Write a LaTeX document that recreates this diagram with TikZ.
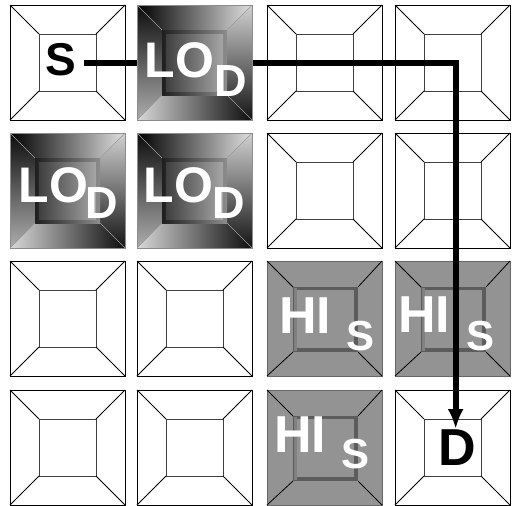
\documentclass[tikz,border=0pt]{standalone}
\usepackage{fontspec}
\setmainfont{Liberation Sans}
\usetikzlibrary{arrows.meta}
\definecolor{higray}{HTML}{939393}
\definecolor{hiframe}{HTML}{5C5C5C}
\newcommand\plainbox[2]{%
  \begin{scope}[shift={(#1,#2)}]
    \draw[sqline, fill=white] (0,0) rectangle (115,115);
    \draw[sqline, draw=black!75] (29,29) rectangle (86,86);
    \draw[sqline] (0,0) -- (29,29) (115,0) -- (86,29) (0,115) -- (29,86) (115,115) -- (86,86);
  \end{scope}}
\newcommand\hibox[2]{%
  \begin{scope}[shift={(#1,#2)}]
    \draw[sqline, draw=black!60, fill=higray] (0,0) rectangle (115,115);
    \fill[hiframe] (26,26) rectangle (91,91);
    \fill[black!50] (27,27) rectangle (30,90);
    \fill[higray] (30,29) rectangle (87,87);
    \draw[sqline] (0,0) -- (26,26) (115,0) -- (91,26) (0,115) -- (26,91) (115,115) -- (91,91);
  \end{scope}}
\newcommand\lobox[2]{%
  \begin{scope}[shift={(#1,#2)}]
    \shade[left color=black, right color=white!88!black] (0,0) -- (115,0) -- (90,25) -- (25,25) -- cycle;
    \shade[top color=white!82!black, bottom color=black!92] (115,0) -- (115,115) -- (90,90) -- (90,25) -- cycle;
    \shade[left color=white!85!black, right color=black!95] (0,115) -- (115,115) -- (90,90) -- (25,90) -- cycle;
    \shade[top color=black!95, bottom color=white!68!black] (0,0) -- (0,115) -- (25,90) -- (25,25) -- cycle;
    \shade[left color=black!88, right color=black!45] (25,25) rectangle (90,90);
    \shade[left color=black!75, right color=black!35] (29,29) rectangle (86,86);
    \draw[line width=0.6pt, draw=black!45] (0,0) rectangle (115,115);
    \draw[line width=0.6pt, draw=black!40] (0,0) -- (25,25) (115,0) -- (90,25) (0,115) -- (25,90) (115,115) -- (90,90);
  \end{scope}}
\begin{document}
\begin{tikzpicture}[x=1pt, y=-1pt,
  sqline/.style={line width=0.8pt, draw=black},
  lab/.style={inner sep=0pt, anchor=base west},
  blacklab/.style={lab, text=black, font=\bfseries\fontsize{#1}{#1}\selectfont},
  whitelab/.style={lab, text=white, font=\bfseries\fontsize{#1}{#1}\selectfont},
  conn/.style={line width=6pt, line join=miter, -{Latex[length=20pt, width=16pt]}}]
\useasboundingbox (0,0) rectangle (512,506);
% plain squares
\plainbox{10}{5}
\plainbox{267}{5}
\plainbox{395}{5}
\plainbox{267}{133}
\plainbox{395}{133}
\plainbox{10}{261}
\plainbox{137}{261}
\plainbox{10}{390}
\plainbox{137}{390}
\plainbox{395}{390}
% HI squares
\hibox{267}{261}
\hibox{395}{261}
\hibox{267}{390}
\node[whitelab=52] (hi1) at (279.2,333) {HI};
\node[whitelab=42] (hs1) at (346.5,350) {S};
\node[whitelab=52] (hi2) at (398.2,332) {HI};
\node[whitelab=42] (hs2) at (466.5,350) {S};
\node[whitelab=52] (hi3) at (274.2,452) {HI};
\node[whitelab=42] (hs3) at (341.5,468) {S};
% source and destination
\node[blacklab=46] (S) at (45.5,75) {S};
\node[blacklab=52] (D) at (438.5,465) {D};
\draw[conn] ([shift={(7pt,-3.7pt)}]S.east) -| ([xshift=-1.8pt]D.north);
% LO squares
\lobox{137}{5}
\lobox{10}{133}
\lobox{137}{133}
\node[whitelab=50] (lo1) at (144.3,77) {LO};
\node[whitelab=45] (ld1) at (214.7,96) {D};
\node[whitelab=50] (lo2) at (18.3,202) {LO};
\node[whitelab=45] (ld2) at (85.7,218) {D};
\node[whitelab=50] (lo3) at (143.3,202) {LO};
\node[whitelab=45] (ld3) at (212.7,218) {D};
\end{tikzpicture}
\end{document}
